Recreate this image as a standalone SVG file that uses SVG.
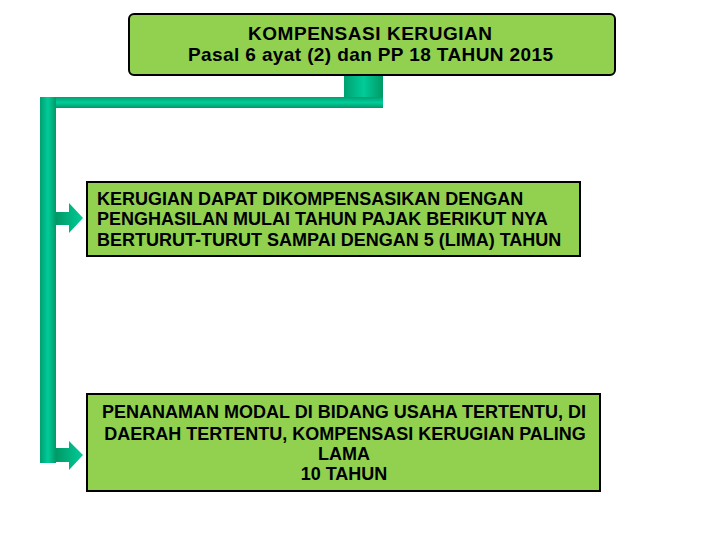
<svg xmlns="http://www.w3.org/2000/svg" width="720" height="540" viewBox="0 0 720 540">
<style>
.box{fill:#92D050;stroke:#000;stroke-width:2}
.t{font-family:"Liberation Sans",Arial,sans-serif;fill:#000;font-weight:bold;font-size:18px}
.h{font-size:19px}
</style>
<defs>
<linearGradient id="gv" x1="0" y1="0" x2="1" y2="0">
<stop offset="0" stop-color="#00A070"/><stop offset="0.5" stop-color="#00CC99"/><stop offset="1" stop-color="#009966"/>
</linearGradient>
<linearGradient id="gh" x1="0" y1="0" x2="0" y2="1">
<stop offset="0" stop-color="#00A070"/><stop offset="0.5" stop-color="#00CC99"/><stop offset="1" stop-color="#009966"/>
</linearGradient>
<linearGradient id="ga" x1="0" y1="0" x2="1" y2="0">
<stop offset="0" stop-color="#009966"/><stop offset="1" stop-color="#00CC99"/>
</linearGradient>
</defs>
<g id="connectors">
<rect x="344" y="75" width="39" height="24" fill="url(#gv)"/>
<rect x="40" y="97" width="343" height="11" fill="url(#gh)"/>
<rect x="40" y="97" width="16" height="366" fill="url(#gv)"/>
<polygon points="56,212 69,212 69,203 83,218 69,233 69,225 56,225" fill="url(#ga)"/>
<polygon points="56,448 69,448 69,441 83,455 69,470 69,462 56,462" fill="url(#ga)"/>
</g>
<g id="top">
<rect class="box" x="129" y="14" width="486" height="61" rx="5"/>
<text class="t h" x="248" y="40" textLength="244" lengthAdjust="spacing">KOMPENSASI KERUGIAN</text>
<text class="t h" x="188" y="61" textLength="365" lengthAdjust="spacing">Pasal 6 ayat (2) dan PP 18 TAHUN 2015</text>
</g>
<g id="box1">
<rect class="box" x="87" y="182" width="493" height="74"/>
<text class="t" x="97" y="205">KERUGIAN DAPAT DIKOMPENSASIKAN DENGAN</text>
<text class="t" x="97" y="225">PENGHASILAN MULAI TAHUN PAJAK BERIKUT NYA</text>
<text class="t" x="97" y="246">BERTURUT-TURUT SAMPAI DENGAN 5 (LIMA) TAHUN</text>
</g>
<g id="box2">
<rect class="box" x="87" y="394" width="513" height="97"/>
<text class="t" x="344" y="418" text-anchor="middle">PENANAMAN MODAL DI BIDANG USAHA TERTENTU, DI</text>
<text class="t" x="345" y="440" text-anchor="middle">DAERAH TERTENTU, KOMPENSASI KERUGIAN PALING</text>
<text class="t" x="344" y="460" text-anchor="middle">LAMA</text>
<text class="t" x="344" y="480" text-anchor="middle">10 TAHUN</text>
</g>
</svg>
